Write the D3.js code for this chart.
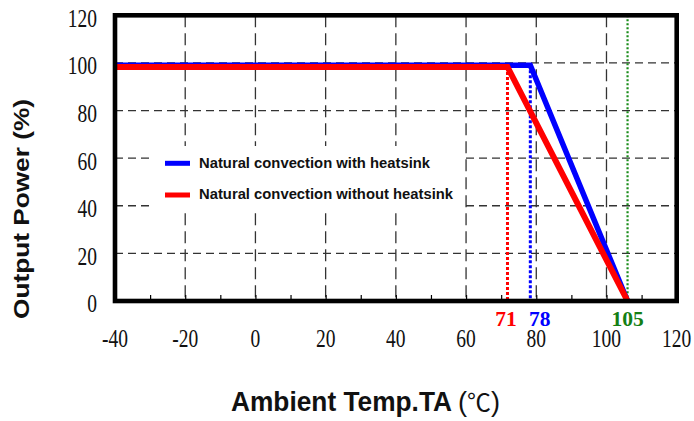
<!DOCTYPE html>
<html><head><meta charset="utf-8">
<script src="https://cdn.jsdelivr.net/npm/d3@7/dist/d3.min.js"></script>
<style>body{margin:0;background:#fff}svg{display:block}</style>
</head><body><svg id="c" width="694" height="421"></svg>
<script>
// ---- data ----
const xTickValues = [-40, -20, 0, 20, 40, 60, 80, 100, 120];
const yTickValues = [0, 20, 40, 60, 80, 100, 120];
const gridX = [-20, 0, 20, 40, 60, 80, 100];
const gridY = [20, 40, 60, 80, 100];
const minorX = [-30, -20, -10, 0, 10, 20, 30, 40, 50, 60, 70, 80, 90, 100, 110];
const seriesNames = ["Natural convection with heatsink", "Natural convection without heatsink"];
const withHeatsinkTemp = [-40, 78.3, 106];
const withHeatsinkPower = [99, 99, 0];
const withoutHeatsinkTemp = [-40, 71.8, 106];
const withoutHeatsinkPower = [98.3, 98.3, 0];
const markerTemp = [71.8, 78.3, 106];
const markerTop = [98.3, 99, 120];
const markerLabels = ["71", "78", "105"];
const xTitle = "Ambient Temp.TA";
const xTitleUnit = ["(", "℃", ")"];
const yTitle = "Output Power (%)";

// ---- drawing ----
const svg = d3.select("#c");
const L = 115, R = 676.7, T = 15.3, B = 301;
const x = d3.scaleLinear().domain([-40, 120]).range([L, R]);
const y = d3.scaleLinear().domain([0, 120]).range([B, T]);
const RED = "#ff0000", BLUE = "#0000ff", GREEN = "#147f14";
const serif = "'Liberation Serif','Times New Roman',serif";
const sans = "'Liberation Sans',Arial,sans-serif";

// grid
svg.append("g").selectAll("line").data(gridX).join("line")
  .attr("x1", d => x(d)).attr("x2", d => x(d)).attr("y1", y(120)).attr("y2", y(0))
  .attr("stroke", "#333").attr("stroke-width", 1.3).attr("stroke-dasharray", "12,6");
svg.append("g").selectAll("line").data(gridY).join("line")
  .attr("x1", x(-40)).attr("x2", x(120)).attr("y1", d => y(d)).attr("y2", d => y(d))
  .attr("stroke", "#333").attr("stroke-width", 1.3).attr("stroke-dasharray", "8,5");

// minor ticks (inside, bottom)
const ax = svg.append("g").attr("transform", `translate(0,${B})`)
  .call(d3.axisBottom(x).tickValues(minorX).tickSize(-6).tickFormat(""));
ax.select(".domain").remove();
ax.selectAll("line").attr("stroke", "#000").attr("stroke-width", 1.2);

// legend background
svg.append("rect").attr("x", 154).attr("y", 146).attr("width", 309).attr("height", 65).attr("fill", "#fff");

// marker dotted lines
const mColors = [RED, BLUE, GREEN];
svg.append("g").selectAll("line").data(markerTemp).join("line")
  .attr("x1", d => x(d)).attr("x2", d => x(d))
  .attr("y1", (d, i) => y(markerTop[i])).attr("y2", y(0))
  .attr("stroke", (d, i) => i === 2 ? "#1a8c1a" : mColors[i])
  .attr("stroke-width", (d, i) => i === 2 ? 2.2 : 3)
  .attr("stroke-dasharray", (d, i) => i === 2 ? "2,2" : "3,2");

// series
const line = d3.line().x(d => x(d[0])).y(d => y(d[1]));
svg.append("path").datum(withHeatsinkTemp.map((t, i) => [t, withHeatsinkPower[i]]))
  .attr("d", line).attr("fill", "none").attr("stroke", BLUE).attr("stroke-width", 5.5);
svg.append("path").datum(withoutHeatsinkTemp.map((t, i) => [t, withoutHeatsinkPower[i]]))
  .attr("d", line).attr("fill", "none").attr("stroke", RED).attr("stroke-width", 6);

// frame
svg.append("rect").attr("x", L).attr("y", T).attr("width", R - L).attr("height", B - T)
  .attr("fill", "none").attr("stroke", "#000").attr("stroke-width", 4.6);

// tick labels
svg.append("g").selectAll("text").data(xTickValues).join("text")
  .attr("transform", d => `translate(${x(d)},346.7) scale(1,1.27)`)
  .attr("text-anchor", "middle").attr("font-family", serif).attr("font-size", 19.5)
  .attr("fill", "#111").text(d => d);
svg.append("g").selectAll("text").data(yTickValues).join("text")
  .attr("transform", d => `translate(97,${y(d) + 11.4}) scale(1,1.27)`)
  .attr("text-anchor", "end").attr("font-family", serif).attr("font-size", 19.5)
  .attr("fill", "#111").text(d => d);

// marker labels
const mDx = [-1.5, 9.5, 0];
svg.append("g").selectAll("text").data(markerLabels).join("text")
  .attr("x", (d, i) => x(markerTemp[i]) + mDx[i]).attr("y", 326)
  .attr("text-anchor", "middle").attr("font-family", serif).attr("font-weight", "bold")
  .attr("font-size", 21.5).attr("fill", (d, i) => mColors[i]).text(d => d);

// legend
const legY = [163.3, 195];
const legC = [BLUE, RED];
seriesNames.forEach((n, i) => {
  svg.append("line").attr("x1", 165).attr("x2", 190).attr("y1", legY[i]).attr("y2", legY[i])
    .attr("stroke", legC[i]).attr("stroke-width", 5);
  svg.append("text").attr("x", 199).attr("y", legY[i] + 4.2).attr("font-family", sans)
    .attr("font-weight", "bold").attr("font-size", 14.8).attr("fill", "#111").text(n);
});

// axis titles
svg.append("text").attr("transform", "translate(231,411) scale(1,1.1)")
  .attr("font-family", sans).attr("font-weight", "bold").attr("font-size", 25.5)
  .attr("textLength", 221).attr("lengthAdjust", "spacingAndGlyphs")
  .attr("fill", "#111").text(xTitle);
const unit = svg.append("text").attr("transform", "translate(458,411) scale(1,1.1)")
  .attr("font-size", 25).attr("fill", "#111")
  .attr("textLength", 42).attr("lengthAdjust", "spacingAndGlyphs");
unit.append("tspan").attr("font-family", sans).text(xTitleUnit[0]);
unit.append("tspan").attr("font-family", "'Noto Sans CJK SC',sans-serif").attr("font-size", 22).text(xTitleUnit[1]);
unit.append("tspan").attr("font-family", sans).text(xTitleUnit[2]);
svg.append("text").attr("transform", "translate(28.5,319) rotate(-90)")
  .attr("font-family", sans).attr("font-weight", "bold").attr("font-size", 21.5)
  .attr("textLength", 220).attr("lengthAdjust", "spacingAndGlyphs")
  .attr("fill", "#111").text(yTitle);
</script></body></html>
